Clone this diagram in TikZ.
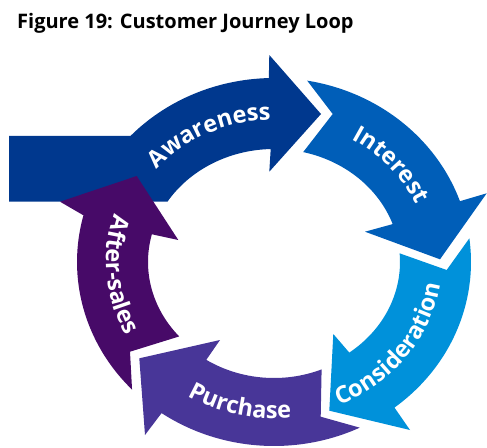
\documentclass[tikz,border=0pt]{standalone}
\usepackage{fontspec}
\newfontfamily\osans{Open Sans}
\usetikzlibrary{decorations.text}
\definecolor{cAware}{RGB}{0,56,142}
\definecolor{cInter}{RGB}{0,94,184}
\definecolor{cConsid}{RGB}{0,145,218}
\definecolor{cPurch}{RGB}{72,54,152}
\definecolor{cAfter}{RGB}{71,10,104}
\newcommand\lblfont{\osans\bfseries\fontsize{23.5}{23.5}\selectfont\color{white}}
\begin{document}
\begin{tikzpicture}[x=1pt,y=1pt,
  lbl/.style={decorate, decoration={text along path, text align=center, text={|\lblfont|#1}}}]
\useasboundingbox (0,0) rectangle (487,-447);
\coordinate (C) at (274,-262);
% Awareness (with entry bar)
\fill[cAware] (9,-135.8) -- ([shift={(C)}]136.7:197pt and 184pt)
  arc[start angle=136.7, end angle=91.5, x radius=197pt, y radius=184pt]
  -- (269.3,-55) -- (321,-114) -- (269.3,-171.7)
  -- ([shift={(C)}]91.5:126pt and 113pt)
  arc[start angle=91.5, end angle=147.7, x radius=126pt, y radius=113pt]
  -- (9,-201.6) -- cycle;
% Interest
\fill[cInter] ([shift={(C)}]80.3:197pt and 184pt)
  arc[start angle=80.3, end angle=19.3, x radius=197pt, y radius=184pt]
  -- (486.7,-193.3) -- (440,-259.3) -- (365,-231.7)
  -- ([shift={(C)}]19.6:126pt and 113pt)
  arc[start angle=19.6, end angle=76.6, x radius=126pt, y radius=113pt]
  -- (332.7,-114) -- cycle;
% Consideration
\fill[cConsid] ([shift={(C)}]7.4:197pt and 184pt)
  arc[start angle=7.4, end angle=-52.3, x radius=197pt, y radius=184pt]
  -- (410,-430) -- (329.3,-410.7) -- (333.3,-334)
  -- ([shift={(C)}]-53.3:126pt and 113pt)
  arc[start angle=-53.3, end angle=4.4, x radius=126pt, y radius=113pt]
  -- (446.7,-270) -- cycle;
% Purchase
\fill[cPurch] ([shift={(C)}]-64.2:197pt and 184pt)
  arc[start angle=-64.2, end angle=-124.8, x radius=197pt, y radius=184pt]
  -- (145,-435) -- (139.3,-358.3) -- (220,-340)
  -- ([shift={(C)}]-122.5:126pt and 116pt)
  arc[start angle=-122.5, end angle=-67.8, x radius=126pt, y radius=116pt]
  -- (320.7,-416.7) -- cycle;
% After-sales
\fill[cAfter] ([shift={(C)}]-136.1:197pt and 184pt)
  arc[start angle=-136.1, end angle=-194.7, x radius=197pt, y radius=184pt]
  -- (60,-201.7) -- (136.7,-176) -- (178.3,-240)
  -- ([shift={(C)}]165.8:126pt and 113pt)
  arc[start angle=-194.2, end angle=-138.8, x radius=126pt, y radius=113pt]
  -- (130,-351.7) -- cycle;
% labels
\path[lbl=Awareness] ([shift={(C)}]166:155pt and 142pt)
  arc[start angle=166, end angle=66, x radius=155pt, y radius=142pt];
\path[lbl=Interest] ([shift={(C)}]90.6:155pt and 142pt)
  arc[start angle=90.6, end angle=-9.4, x radius=155pt, y radius=142pt];
\path[lbl=Consideration] ([shift={(C)}]-87:168pt and 155pt)
  arc[start angle=-87, end angle=13, x radius=168pt, y radius=155pt];
\path[lbl=Purchase] ([shift={(C)}]-153:168pt and 156.5pt)
  arc[start angle=-153, end angle=-53, x radius=168pt, y radius=156.5pt];
\path[lbl=After-sales] ([shift={(C)}]135:168pt and 155pt)
  arc[start angle=135, end angle=235, x radius=168pt, y radius=155pt];
% title
\node[anchor=base west, inner sep=0, font=\osans\bfseries\fontsize{20}{20}\selectfont] (title) at (17,-28) {Figure 19: Customer Journey Loop};
\end{tikzpicture}
\end{document}
